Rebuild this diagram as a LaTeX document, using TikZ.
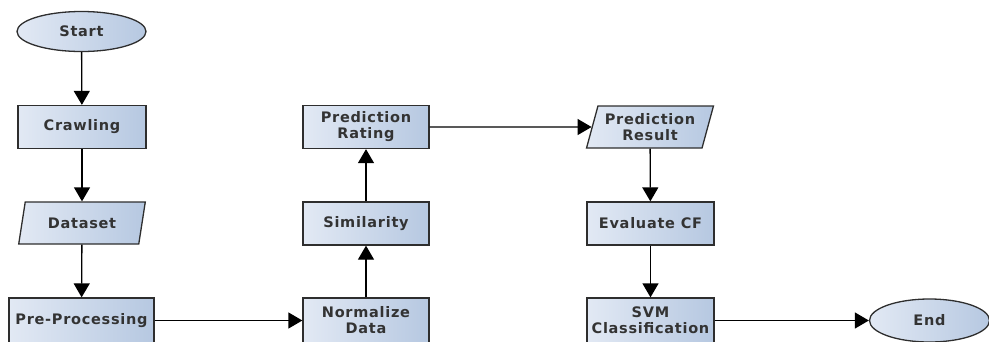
\documentclass[tikz,border=0pt]{standalone}
\usepackage{fontspec}
\setmainfont{DejaVu Sans}
\newfontfamily\lblfont[LetterSpace=5]{DejaVu Sans Bold}
\usetikzlibrary{shapes.geometric,arrows.meta}
\definecolor{fillL}{HTML}{E2E9F4}
\definecolor{fillR}{HTML}{B6C8E1}
\definecolor{edge}{HTML}{2E2E2E}
\definecolor{txt}{HTML}{333333}
\tikzset{
  base/.style={draw=edge, line width=1.3pt, left color=fillL, right color=fillR,
    font=\lblfont\fontsize{14.5}{16}\selectfont, text=txt, align=center, inner sep=0pt},
  procbox/.style={base, rectangle, minimum width=#1, minimum height=43pt},
  procbox/.default=127pt,
  iobox/.style={base, trapezium, trapezium left angle=70, trapezium right angle=110,
    trapezium stretches=true, minimum width=127pt, minimum height=42pt},
  termin/.style={base, ellipse, minimum width=#1, minimum height=40pt},
  flow/.style={draw=black, line width=1.3pt, -{Triangle[width=16pt,length=14pt]}}
}
\begin{document}
\begin{tikzpicture}[x=1pt,y=-1pt]
\useasboundingbox (0,0) rectangle (989,341);
\clip (0,0) rectangle (989,341);
\node[termin=129pt] (start) at (81.5,31.5) {Start};
\node[procbox=128pt] (crawl) at (82,127) {Crawling};
\node[iobox] (data) at (82,223) {Dataset};
\node[procbox=145pt, minimum height=45pt] (pre) at (81.5,320.5) {Pre-Processing};
\node[procbox=126pt, minimum height=45pt] (norm) at (366,320.5) {Normalize\\Data};
\node[procbox=126pt] (sim) at (366,223.5) {Similarity};
\node[procbox=126pt] (pred) at (366,127) {Prediction\\Rating};
\node[iobox] (pres) at (650,127) {Prediction\\Result};
\node[procbox=127pt] (eval) at (650.5,223.5) {Evaluate CF};
\node[procbox=127pt, minimum height=45pt] (svm) at (650.5,320.5) {SVM\\Classification};
\node[termin=120pt, minimum height=43pt] (end) at (929.5,320.5) {End};

\draw[flow] (start) -- (crawl);
\draw[flow] (crawl) -- (data);
\draw[flow] (data) -- (pre);
\draw[flow] (pre.east) -- (norm.west);
\draw[flow] (norm) -- (sim);
\draw[flow] (sim) -- (pred);
\draw[flow] (pred.east) -- (pres.west);
\draw[flow] (pres) -- (eval);
\draw[flow] (eval) -- (svm);
\draw[flow] (svm.east) -- (end.west);
\end{tikzpicture}
\end{document}
